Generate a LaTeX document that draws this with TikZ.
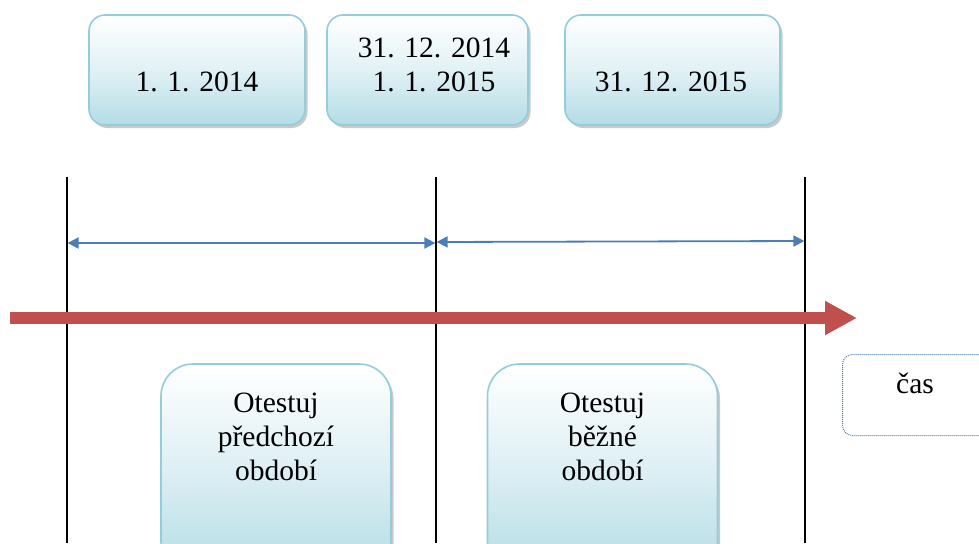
\documentclass[tikz,border=0pt]{standalone}
\usepackage{fontspec}
\setmainfont{Liberation Serif}
\usetikzlibrary{arrows.meta,shadows}
\definecolor{boxline}{HTML}{93CDDD}
\definecolor{boxbottom}{HTML}{B4DCE6}
\definecolor{axisred}{HTML}{C0504D}
\definecolor{spanblue}{HTML}{4A7EBB}
\tikzset{
  datebox/.style={draw=boxline, line width=1.6pt, rounded corners=16pt,
    top color=white, bottom color=boxbottom, middle color=white!60!boxbottom,
    drop shadow={shadow xshift=2.5pt, shadow yshift=-3pt, opacity=0.3, fill=black!70},
    minimum width=#1, minimum height=110pt, inner sep=0pt},
  taskbox/.style={draw=boxline, line width=1.6pt, rounded corners=32pt,
    top color=white, bottom color=boxbottom, middle color=white!55!boxbottom,
    drop shadow={shadow xshift=2.5pt, shadow yshift=-3pt, opacity=0.3, fill=black!70},
    minimum width=230pt, minimum height=210pt, inner sep=0pt},
  lbl/.style={font=\fontsize{29.5}{34}\selectfont, align=center, inner sep=0pt},
  boundary/.style={draw=black, line width=1.1pt},
  periodspan/.style={draw=spanblue, line width=1.8pt,
    {Triangle[length=11pt,width=11pt]}-{Triangle[length=11pt,width=11pt]}},
}
\begin{document}
\begin{tikzpicture}[x=1pt,y=-1pt]
  \useasboundingbox (0,0) rectangle (979,543);
  \clip (0,0) rectangle (979,543);

  % date boxes on top (label anchors sit on the last baseline)
  \node[datebox=216pt] (d1) at (197,70) {};
  \node[datebox=201pt] (d2) at (427.5,70) {};
  \node[datebox=215pt] (d3) at (672.5,70) {};
  \node[lbl, anchor=base] (t1) at (197,91) {1. 1. 2014};
  \node[lbl, anchor=base] (t2) at (434,91) {31. 12. 2014\\1. 1. 2015};
  \node[lbl, anchor=base] (t3) at (671,91) {31. 12. 2015};

  % period boundaries
  \coordinate (m1t) at (67,177);  \coordinate (m1b) at (67,543);
  \coordinate (m2t) at (436,177); \coordinate (m2b) at (436,543);
  \coordinate (m3t) at (805,177); \coordinate (m3b) at (805,543);
  \draw[boundary] (m1t) -- (m1b);
  \draw[boundary] (m2t) -- (m2b);
  \draw[boundary] (m3t) -- (m3b);

  % period spans
  \coordinate (s1a) at (67.6,243);  \coordinate (s1b) at (435.4,243);
  \coordinate (s2a) at (436.6,242); \coordinate (s2b) at (804.4,241);
  \draw[periodspan] (s1a) -- (s1b);
  \draw[periodspan] (s2a) -- (s2b);

  % time axis
  \coordinate (ax0) at (10,318);
  \coordinate (ax1) at (857,318);
  \draw[draw=axisred, line width=12pt,
    -{Triangle[length=32pt 0 0,width=32pt 0 0]}] (ax0) -- (ax1);

  % task boxes
  \node[taskbox] (p1) at (276,469) {};
  \node[taskbox] (p2) at (602.5,469) {};
  \node[lbl, anchor=base] (q1) at (276,480) {Otestuj\\předchozí\\období};
  \node[lbl, anchor=base] (q2) at (602.5,480) {Otestuj\\běžné\\období};

  % axis legend
  \node[draw=spanblue, densely dotted, line width=1pt, rounded corners=10pt,
    fill=white, minimum width=160pt, minimum height=81pt, anchor=north west]
    (cas) at (842,354) {};
  \node[lbl, anchor=base] (ct) at (915,393) {čas};
\end{tikzpicture}
\end{document}
